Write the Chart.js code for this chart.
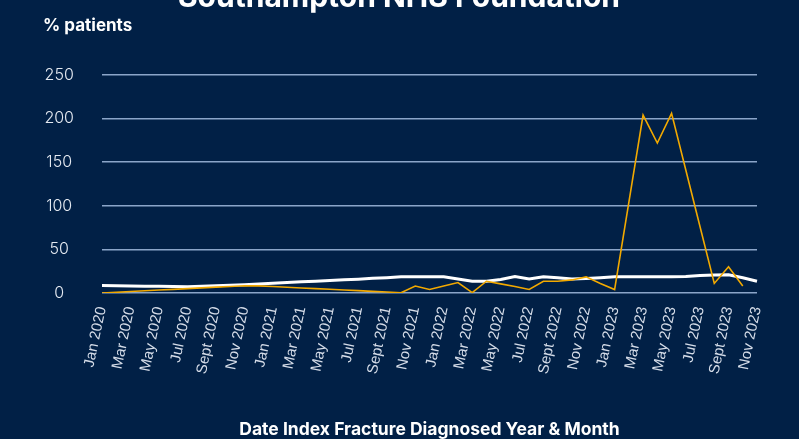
<!DOCTYPE html>
<html>
<head>
<meta charset="utf-8">
<script src="https://cdn.jsdelivr.net/npm/chart.js@4"></script>
<style>
  html, body { margin: 0; padding: 0; background: #012046; }
  #wrap { width: 799px; height: 439px; position: relative; }
</style>
</head>
<body>
<div id="wrap"><canvas id="c" width="799" height="439"></canvas></div>
<script>
const chartTitle = 'Southampton NHS Foundation';
const yAxisLabel = '% patients';
const xAxisTitle = 'Date Index Fracture Diagnosed Year & Month';

const months = [
  'Jan 2020','Feb 2020','Mar 2020','Apr 2020','May 2020','Jun 2020','Jul 2020','Aug 2020','Sept 2020','Oct 2020','Nov 2020','Dec 2020',
  'Jan 2021','Feb 2021','Mar 2021','Apr 2021','May 2021','Jun 2021','Jul 2021','Aug 2021','Sept 2021','Oct 2021','Nov 2021','Dec 2021',
  'Jan 2022','Feb 2022','Mar 2022','Apr 2022','May 2022','Jun 2022','Jul 2022','Aug 2022','Sept 2022','Oct 2022','Nov 2022','Dec 2022',
  'Jan 2023','Feb 2023','Mar 2023','Apr 2023','May 2023','Jun 2023','Jul 2023','Aug 2023','Sept 2023','Oct 2023','Nov 2023'
];

const trustSeries = [
  0, 0.8, 1.7, 2.5, 3.4, 4.2, 5, 5.9, 6.7, 7.5, 8.3, 8.2,
  7.4, 6.6, 5.8, 5, 4.3, 3.5, 2.7, 1.9, 1.1, 0.3, 8, 4,
  8, 12, 0.5, 13.5, 10.5, 7.5, 4, 13.5, 13.5, 15, 18.5, 11,
  4, 104, 204, 172, 206, 141, 76, 11, 30, 8, null
];

const nationalSeries = [
  8.5, 8.3, 8, 7.8, 7.6, 7.4, 7.2, 7.6, 8.2, 8.9, 9.6, 10.4,
  11.2, 12, 12.8, 13.5, 14.3, 15.1, 15.9, 16.8, 17.6, 18.5, 18.5, 18.5,
  18.5, 16, 13.5, 13.5, 15.5, 19, 16, 18.5, 17.5, 16, 16.5, 17.5,
  18.5, 18.5, 18.5, 18.5, 18.5, 19, 20, 20.5, 21, 17.5, 13.5
];

const yTicks = [0, 50, 100, 150, 200, 250];

const BG = '#012046';

const decor = {
  id: 'decor',
  beforeDraw(chart) {
    const ctx = chart.ctx;
    ctx.save();
    ctx.fillStyle = BG;
    ctx.fillRect(0, 0, chart.width, chart.height);
    ctx.restore();
  },
  afterDraw(chart) {
    const ctx = chart.ctx;
    ctx.save();
    ctx.fillStyle = '#ffffff';
    ctx.textBaseline = 'alphabetic';
    ctx.font = '700 30px Inter';
    ctx.textAlign = 'center';
    ctx.fillText(chartTitle, 399, 7);
    ctx.font = '700 17px Inter';
    ctx.textAlign = 'left';
    ctx.fillText(yAxisLabel, 43, 31);
    ctx.restore();
  }
};

new Chart(document.getElementById('c'), {
  type: 'line',
  data: {
    labels: months,
    datasets: [
      {
        label: 'Trust',
        data: trustSeries,
        borderColor: '#f2a900',
        borderWidth: 1.6,
        pointRadius: 0,
        tension: 0,
        fill: false
      },
      {
        label: 'National',
        data: nationalSeries,
        borderColor: '#ffffff',
        borderWidth: 3,
        pointRadius: 0,
        tension: 0,
        fill: false
      }
    ]
  },
  options: {
    responsive: false,
    animation: false,
    layout: { padding: { top: 75, right: 42, left: 0, bottom: 0 } },
    plugins: {
      legend: { display: false },
      tooltip: { enabled: false },
      title: { display: false }
    },
    scales: {
      x: {
        offset: false,
        grid: { display: false, drawTicks: false },
        border: { display: false },
        ticks: {
          autoSkip: false,
          minRotation: 78,
          maxRotation: 78,
          padding: 12,
          color: '#d5dce8',
          font: { family: 'Liberation Sans, Arial', size: 15 },
          callback: function(v, i) { return i % 2 === 0 ? months[i] : ''; }
        },
        title: {
          display: true,
          text: xAxisTitle,
          color: '#ffffff',
          font: { family: 'Inter', size: 17.5, weight: '700' },
          padding: { top: 0, bottom: -1 }
        },
        afterFit(scale) { scale.height = 146; }
      },
      y: {
        min: 0,
        max: 250,
        grid: { color: '#8ba5c9', lineWidth: 1.5, drawTicks: false },
        border: { display: false },
        afterBuildTicks(scale) { scale.ticks = yTicks.map(v => ({ value: v })); },
        ticks: {
          padding: 28,
          crossAlign: 'center',
          color: '#e3e8f0',
          font: { family: 'Inter', size: 16, weight: '300' }
        },
        afterFit(scale) { scale.width = 102; }
      }
    }
  },
  plugins: [decor]
});
</script>
</body>
</html>
